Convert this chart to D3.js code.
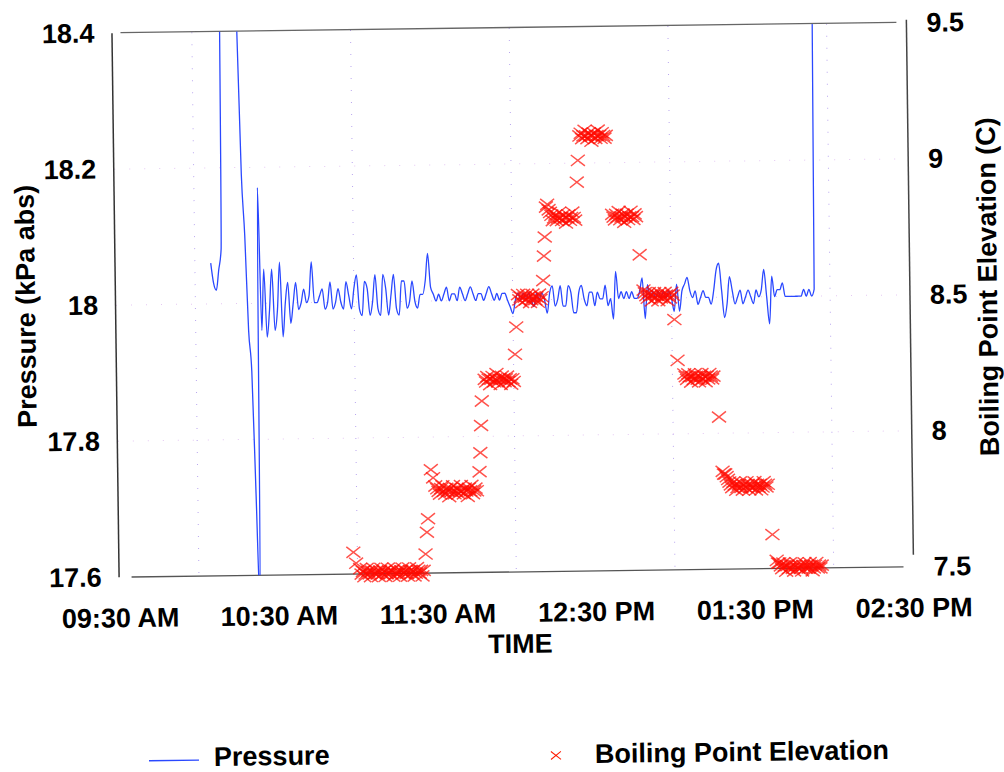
<!DOCTYPE html>
<html>
<head>
<meta charset="utf-8">
<script src="https://cdn.jsdelivr.net/npm/d3@7"></script>
<style>
body { margin: 0; background: #fff; }
text { font-family: "Liberation Sans", Arial, sans-serif; font-weight: bold; }
</style>
</head>
<body>
<div id="chart"></div>
<script>
// pressure log: one reading per minute, first reading 36 min after 09:30
var pressureStart = 36;
var pressure = [
  18.06, 18.03, 18.02, 18.05, 18.08,
  18.7, 18.7, 18.7, 18.7, 18.7, 18.7,
  18.40, 18.19, 18.10, 17.96, 17.90, 17.72, 17.55,
  18.17, 17.96, 18.05, 17.95, 17.99, 18.05, 17.96, 17.99, 18.06, 17.95, 18.00, 18.03,
  17.97, 18.00, 18.03, 17.99, 18.00, 18.02, 18.00, 18.01, 18.06, 18.00, 18.00, 18.01,
  18.02, 17.99, 18.00, 18.03, 17.99, 18.00, 18.02, 18.00, 17.99, 18.03, 18.01, 17.99,
  18.02, 18.04, 17.99, 17.98, 18.03, 18.02, 17.98,
  18.00, 18.04, 17.99, 17.98, 18.04, 18.02, 17.98, 18.01, 18.04, 17.99, 17.98, 18.03,
  18.03, 17.99, 18.00, 18.03, 18.00, 17.99, 18.01,
  18.01, 18.03, 18.07, 18.02, 18.01, 18.00,
  18.01, 18.00, 18.01, 18.02, 18.00, 18.01, 18.01, 18.00, 18.02, 18.01,
  18.00, 18.01, 18.02, 18.01, 18.00, 18.01, 18.01, 18.00, 18.01, 18.02,
  18.01, 18.00, 18.01, 18.00, 18.01, 18.01, 18.00, 17.99, 17.98,
  18.00, 18.01, 18.00, 18.01, 18.00, 18.01, 18.00, 17.99, 18.01, 18.00,
  18.01, 18.00, 17.98, 18.01, 18.02, 17.99, 18.00, 18.02, 17.99, 17.99,
  18.02, 18.01, 17.98, 17.98, 18.01, 18.02, 18.00, 17.99, 18.01, 18.01,
  17.99, 18.01, 18.00, 18.00, 18.02, 17.99, 18.00, 17.97, 18.04, 18.00,
  18.01, 18.00, 18.01, 18.00, 18.01, 18.00, 18.00, 18.01, 18.03, 17.97,
  18.02, 18.00, 18.01, 18.00, 18.01, 18.00, 18.01, 18.00, 18.01, 18.00,
  17.98, 18.02, 17.98,
  18.01, 18.02, 18.03, 18.01, 18.00, 18.01, 17.99, 18.00, 18.01, 18.00,
  18.00, 17.99, 18.01, 18.04, 18.05, 18.01, 17.97, 17.99, 18.03, 18.01,
  17.99, 18.00, 18.01, 17.99, 18.00, 18.01, 18.00, 17.99, 18.01, 18.00,
  18.01, 18.04, 18.00, 17.96, 18.03, 18.00, 18.01, 18.01, 18.02, 18.00,
  18.00, 18.00, 18.00, 18.00, 18.00, 18.00, 18.01, 18.00, 18.01, 18.00,
  18.01, 18.7
];

// boiling point elevation: steady runs logged every 30 s (start = minutes after 09:30)
var bpeRunStart = [91, 120.5, 139, 152, 163, 176, 188, 199.5, 214.5, 228.5, 248.5];
var bpeRuns = [
  [7.52, 7.50, 7.51, 7.49, 7.50, 7.52, 7.51, 7.50, 7.49, 7.51,
   7.52, 7.50, 7.51, 7.50, 7.49, 7.51, 7.52, 7.50, 7.51, 7.49,
   7.50, 7.52, 7.51, 7.50, 7.51, 7.49, 7.52, 7.50, 7.51, 7.50,
   7.49, 7.51, 7.52, 7.50, 7.51, 7.50, 7.49, 7.52, 7.51, 7.50,
   7.51, 7.49, 7.50, 7.52, 7.51, 7.50, 7.51, 7.49, 7.51],
  [7.81, 7.80, 7.79, 7.81, 7.82, 7.80, 7.79, 7.81, 7.80, 7.78,
   7.81, 7.80, 7.82, 7.79, 7.80, 7.81, 7.79, 7.80, 7.82, 7.80,
   7.79, 7.81, 7.80, 7.78, 7.81, 7.80, 7.82, 7.79, 7.80, 7.81,
   7.80],
  [8.21, 8.20, 8.22, 8.21, 8.19, 8.21, 8.22, 8.20, 8.21, 8.23,
   8.20, 8.21, 8.19, 8.22, 8.21, 8.20, 8.21, 8.22, 8.20, 8.21,
   8.19, 8.21, 8.20],
  [8.52, 8.50, 8.51, 8.49, 8.52, 8.51, 8.50, 8.52, 8.51, 8.49,
   8.50, 8.52, 8.51, 8.50, 8.51, 8.49, 8.52, 8.50, 8.51],
  [8.84, 8.85, 8.83, 8.82, 8.81, 8.79, 8.80, 8.81, 8.79, 8.80,
   8.82, 8.80, 8.79, 8.81, 8.80, 8.78, 8.80, 8.81, 8.79, 8.80,
   8.82, 8.80, 8.79],
  [9.10, 9.11, 9.09, 9.10, 9.12, 9.10, 9.09, 9.11, 9.10, 9.08,
   9.10, 9.11, 9.09, 9.10, 9.12, 9.10, 9.09, 9.11, 9.10, 9.09,
   9.10],
  [8.81, 8.80, 8.79, 8.81, 8.80, 8.82, 8.79, 8.80, 8.81, 8.78,
   8.80, 8.81, 8.79, 8.80, 8.82, 8.80, 8.79, 8.81, 8.80],
  [8.53, 8.52, 8.51, 8.50, 8.52, 8.51, 8.49, 8.51, 8.52, 8.50,
   8.51, 8.49, 8.52, 8.50, 8.51, 8.50, 8.52, 8.51, 8.49, 8.51,
   8.50, 8.52, 8.51],
  [8.22, 8.21, 8.20, 8.22, 8.21, 8.19, 8.21, 8.20, 8.22, 8.21,
   8.20, 8.19, 8.21, 8.22, 8.20, 8.21, 8.19, 8.21, 8.20, 8.22,
   8.21, 8.20, 8.21],
  [7.86, 7.85, 7.85, 7.84, 7.83, 7.82, 7.81, 7.80, 7.82, 7.81,
   7.79, 7.80, 7.81, 7.82, 7.80, 7.79, 7.81, 7.80, 7.82, 7.81,
   7.79, 7.80, 7.81, 7.80, 7.82, 7.79, 7.81, 7.80, 7.81, 7.79,
   7.80, 7.82, 7.81, 7.80, 7.81],
  [7.53, 7.52, 7.52, 7.51, 7.50, 7.52, 7.51, 7.49, 7.51, 7.50,
   7.52, 7.51, 7.50, 7.49, 7.51, 7.52, 7.50, 7.51, 7.50, 7.49,
   7.51, 7.52, 7.50, 7.51, 7.50, 7.52, 7.51, 7.49, 7.50, 7.51,
   7.52, 7.50, 7.51, 7.50, 7.51]
];
// single readings taken while the elevation was stepping
var bpeStepTime = [88.5, 89.5, 115.8, 116.4, 116.9, 118.2, 119, 119.8, 136.6, 137, 137.4, 137.8,
  150.6, 151.2, 161.6, 162, 162.4, 174.8, 175.3, 198.2, 211, 212, 227.4, 247];
var bpeStepValue = [7.58, 7.54, 7.57, 7.65, 7.70, 7.88, 7.85, 7.82, 7.87, 7.94, 8.04, 8.13,
  8.30, 8.40, 8.57, 8.66, 8.73, 8.93, 9.01, 8.66, 8.42, 8.27, 8.06, 7.625];

var timeTicks = ["09:30", "10:30", "11:30", "12:30", "13:30", "14:30"];
var gridTimes = ["10:00", "11:00", "12:00", "13:00", "14:00"];
var pressureTicks = [17.6, 17.8, 18, 18.2, 18.4];
var pressureGrid = [17.8, 18, 18.2];
var bpeTicks = [7.5, 8, 8.5, 9, 9.5];

var parseTime = d3.timeParse("%H:%M");
var t0 = parseTime("09:30");
function toDate(m) { return new Date(t0.getTime() + m * 60000); }

var plotLeft = 116, plotRight = 910, plotTop = 28, plotBottom = 572;

var svg = d3.select("#chart").append("svg")
  .attr("width", 1004)
  .attr("height", 772);

// the whole sheet sits a little tilted, like the scanned original
var g = svg.append("g").attr("transform", "rotate(-0.75,510,300)");

var x = d3.scaleTime()
  .domain([parseTime(timeTicks[0]), parseTime(timeTicks[timeTicks.length - 1])])
  .range([plotLeft, plotRight - 0.5]);
var yL = d3.scaleLinear().domain([17.6, 18.4]).range([plotBottom, plotTop]);
var yR = d3.scaleLinear().domain([7.5, 9.5]).range([plotBottom, plotTop]);

// faint dotted grid
g.selectAll(".vgrid").data(gridTimes).enter().append("line")
  .attr("x1", d => x(parseTime(d))).attr("x2", d => x(parseTime(d)))
  .attr("y1", plotTop).attr("y2", plotBottom)
  .attr("stroke", "#b9a6ee").attr("stroke-width", 1)
  .attr("stroke-dasharray", "1,11");
g.selectAll(".hgrid").data(pressureGrid).enter().append("line")
  .attr("x1", plotLeft).attr("x2", plotRight)
  .attr("y1", d => yL(d)).attr("y2", d => yL(d))
  .attr("stroke", "#e4c6f2").attr("stroke-width", 1)
  .attr("stroke-dasharray", "1,14");

// frame
g.append("line").attr("x1", 124).attr("x2", 900).attr("y1", plotTop - 0.5).attr("y2", plotTop - 0.5)
  .attr("stroke", "#666").attr("stroke-width", 1.3);
g.append("line").attr("x1", 128).attr("x2", 900).attr("y1", plotBottom).attr("y2", plotBottom)
  .attr("stroke", "#555").attr("stroke-width", 1.3);
g.append("line").attr("x1", plotLeft - 0.5).attr("x2", plotLeft - 0.5).attr("y1", plotTop).attr("y2", plotBottom)
  .attr("stroke", "#333").attr("stroke-width", 1.5);
g.append("line").attr("x1", plotRight).attr("x2", plotRight).attr("y1", plotTop - 3).attr("y2", plotBottom - 12)
  .attr("stroke", "#444").attr("stroke-width", 1.5);

// axes (labels only)
var axL = g.append("g").attr("transform", "translate(" + plotLeft + ",0)")
  .call(d3.axisLeft(yL).tickValues(pressureTicks).tickSize(0).tickPadding(18).tickFormat(d3.format("")));
var axR = g.append("g").attr("transform", "translate(" + plotRight + ",0)")
  .call(d3.axisRight(yR).tickValues(bpeTicks).tickSize(0).tickPadding(20).tickFormat(d3.format("")));
var axB = g.append("g").attr("transform", "translate(0," + plotBottom + ")")
  .call(d3.axisBottom(x).tickValues(timeTicks.map(parseTime)).tickSize(0).tickPadding(31)
    .tickFormat(d3.timeFormat("%I:%M %p")));

[axL, axR, axB].forEach(function(a) {
  a.select(".domain").remove();
  a.attr("font-size", 27).attr("font-family", null);
  a.selectAll("text").attr("fill", "#000");
});

// axis titles
g.append("text")
  .attr("transform", "translate(35,300)rotate(-90)")
  .attr("text-anchor", "middle").attr("font-size", 27)
  .text("Pressure (kPa abs)");
g.append("text")
  .attr("transform", "translate(997,293)rotate(-90)")
  .attr("text-anchor", "middle").attr("font-size", 27)
  .text("Boiling Point Elevation (C)");
g.append("text")
  .attr("x", 516).attr("y", 653)
  .attr("text-anchor", "middle").attr("font-size", 27)
  .text("TIME");

// pressure line, clipped to the plot area
svg.append("defs").append("clipPath").attr("id", "plotclip")
  .append("rect").attr("x", plotLeft).attr("y", plotTop)
  .attr("width", plotRight - plotLeft).attr("height", plotBottom - plotTop);

var pts = pressure.map((v, i) => ({ m: pressureStart + i, v: v }));
var line = d3.line()
  .x(d => x(toDate(d.m)))
  .y(d => yL(d.v))
  .curve(d3.curveMonotoneX);

g.append("path")
  .datum(pts)
  .attr("clip-path", "url(#plotclip)")
  .attr("d", line)
  .attr("fill", "none")
  .attr("stroke", "#2a48ff")
  .attr("stroke-width", 1.3);

// boiling point elevation markers, drawn over the pressure trace
var bpe = [];
bpeRuns.forEach(function(run, r) {
  run.forEach(function(v, i) { bpe.push({ m: bpeRunStart[r] + i * 0.5, v: v }); });
});
bpeStepTime.forEach(function(m, i) { bpe.push({ m: m, v: bpeStepValue[i] }); });

var xMark = "M-7,-5.5L7,5.5M-7,5.5L7,-5.5";
g.append("g").selectAll("path").data(bpe).enter().append("path")
  .attr("transform", d => "translate(" + x(toDate(d.m)) + "," + yR(d.v) + ")")
  .attr("d", xMark)
  .attr("fill", "none")
  .attr("stroke", "#ff0a00")
  .attr("stroke-opacity", 0.7)
  .attr("stroke-width", 1.5);

// legend
g.append("line").attr("x1", 143).attr("x2", 193).attr("y1", 756).attr("y2", 756)
  .attr("stroke", "#2a48ff").attr("stroke-width", 1.3);
g.append("text").attr("x", 208).attr("y", 762).attr("font-size", 27).text("Pressure");
g.append("path").attr("transform", "translate(550,756)")
  .attr("d", "M-5,-4L5,4M-5,4L5,-4")
  .attr("fill", "none").attr("stroke", "#ff1a00").attr("stroke-width", 1);
g.append("text").attr("x", 589).attr("y", 764).attr("font-size", 27).text("Boiling Point Elevation");
</script>
</body>
</html>
